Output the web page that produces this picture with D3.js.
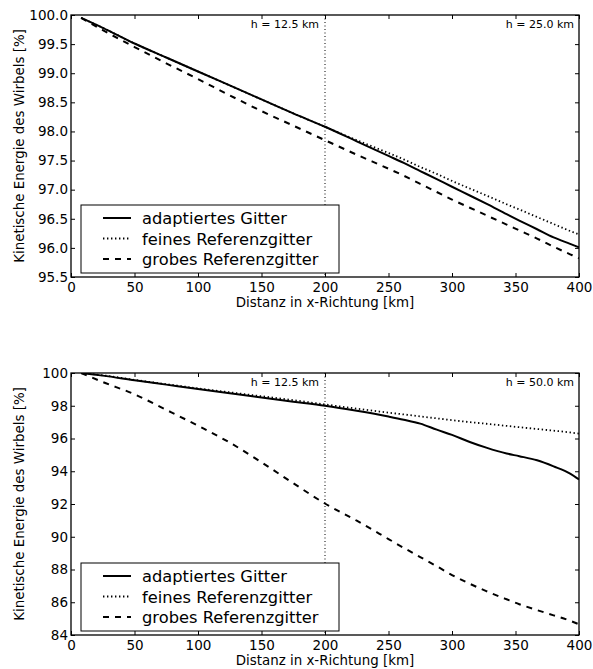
<!DOCTYPE html>
<html>
<head>
<meta charset="utf-8">
<script src="https://cdn.jsdelivr.net/npm/d3@7"></script>
<style>
  html, body { margin: 0; padding: 0; background: #fff; }
  svg { display: block; font-family: "DejaVu Sans", sans-serif; }
</style>
</head>
<body>
<svg id="chart" width="593" height="669"></svg>
<script>
// Distance along x (km) at which the vortex energy is sampled
const distKm = [8, 25, 50, 75, 100, 125, 150, 175, 200, 225, 250, 262, 275, 288, 300, 314, 327, 343, 353, 367, 380, 393, 400];

// Panel 1: h = 25.0 km
const top_adapt  = [99.95, 99.78, 99.51, 99.27, 99.03, 98.79, 98.55, 98.31, 98.08, 97.83, 97.58, 97.46, 97.32, 97.18, 97.05, 96.90, 96.76, 96.58, 96.47, 96.32, 96.18, 96.07, 96.01];
const top_fine   = [99.95, 99.78, 99.51, 99.27, 99.03, 98.79, 98.55, 98.31, 98.08, 97.85, 97.63, 97.52, 97.39, 97.27, 97.15, 97.02, 96.90, 96.75, 96.66, 96.53, 96.41, 96.29, 96.23];
const top_coarse = [99.95, 99.74, 99.45, 99.17, 98.90, 98.62, 98.35, 98.10, 97.85, 97.60, 97.36, 97.24, 97.10, 96.96, 96.83, 96.69, 96.56, 96.40, 96.30, 96.16, 96.02, 95.89, 95.82];

// Panel 2: h = 50.0 km
const bot_adapt  = [100.0, 99.84, 99.56, 99.29, 99.02, 98.76, 98.50, 98.25, 98.00, 97.69, 97.34, 97.15, 96.91, 96.54, 96.22, 95.79, 95.44, 95.08, 94.92, 94.67, 94.30, 93.86, 93.50];
const bot_fine   = [100.0, 99.86, 99.58, 99.32, 99.06, 98.82, 98.58, 98.34, 98.08, 97.82, 97.58, 97.47, 97.35, 97.23, 97.12, 97.00, 96.90, 96.77, 96.69, 96.58, 96.48, 96.37, 96.30];
const bot_coarse = [100.0, 99.45, 98.70, 97.75, 96.78, 95.75, 94.55, 93.27, 92.03, 90.98, 89.86, 89.32, 88.76, 88.20, 87.66, 87.13, 86.68, 86.18, 85.88, 85.52, 85.20, 84.87, 84.65];

// Axis ticks
const xTicks = [0, 50, 100, 150, 200, 250, 300, 350, 400];
const topYTicks = [95.5, 96.0, 96.5, 97.0, 97.5, 98.0, 98.5, 99.0, 99.5, 100.0];
const botYTicks = [84, 86, 88, 90, 92, 94, 96, 98, 100];

const seriesNames = ["adaptiertes Gitter", "feines Referenzgitter", "grobes Referenzgitter"];
const panelLabelLeft = "h = 12.5 km";
const topLabelRight = "h = 25.0 km";
const botLabelRight = "h = 50.0 km";
const refineEdge = 200;

const xLabel = "Distanz in x-Richtung [km]";
const yLabel = "Kinetische Energie des Wirbels [%]";

const styles = [
  { width: 2, dash: null },
  { width: 1.8, dash: "1.4,2.6" },
  { width: 2, dash: "6,6" }
];

const svg = d3.select("#chart");

function panel(opts) {
  const { left, right, top, bottom, yDomain, yTicks, yFmt, series, rightLabel } = opts;
  const g = svg.append("g");
  const x = d3.scaleLinear().domain([0, 400]).range([left, right]);
  const y = d3.scaleLinear().domain(yDomain).range([bottom, top]);

  const clipId = "clip" + Math.round(top);
  g.append("clipPath").attr("id", clipId)
    .append("rect").attr("x", left).attr("y", top).attr("width", right - left).attr("height", bottom - top);

  // vertical marker at the edge of the refined region
  g.append("line")
    .attr("x1", x(refineEdge)).attr("x2", x(refineEdge))
    .attr("y1", top).attr("y2", bottom)
    .attr("stroke", "#000").attr("stroke-width", 1)
    .attr("stroke-dasharray", "1,2.5");

  const line = d3.line().curve(d3.curveMonotoneX).x((d, i) => x(distKm[i])).y(d => y(d));
  const plot = g.append("g").attr("clip-path", `url(#${clipId})`);
  series.forEach((s, i) => {
    plot.append("path")
      .attr("d", line(s))
      .attr("fill", "none")
      .attr("stroke", "#000")
      .attr("stroke-width", styles[i].width)
      .attr("stroke-dasharray", styles[i].dash)
      .attr("stroke-linejoin", "round");
  });

  // axes with inward ticks on all four sides
  const tickLen = 4;
  const xb = g.append("g").attr("transform", `translate(0,${bottom})`)
    .call(d3.axisBottom(x).tickValues(xTicks).tickSizeInner(-tickLen).tickSizeOuter(0).tickPadding(5.5).tickFormat(d3.format("d")));
  const xt = g.append("g").attr("transform", `translate(0,${top})`)
    .call(d3.axisTop(x).tickValues(xTicks).tickSizeInner(-tickLen).tickSizeOuter(0).tickFormat(""));
  const yl = g.append("g").attr("transform", `translate(${left},0)`)
    .call(d3.axisLeft(y).tickValues(yTicks).tickSizeInner(-tickLen).tickSizeOuter(0).tickPadding(3).tickFormat(yFmt));
  const yr = g.append("g").attr("transform", `translate(${right},0)`)
    .call(d3.axisRight(y).tickValues(yTicks).tickSizeInner(-tickLen).tickSizeOuter(0).tickFormat(""));
  [xb, xt, yl, yr].forEach(a => {
    a.select(".domain").remove();
    a.selectAll(".tick line").attr("stroke", "#000").attr("stroke-width", 1);
  });
  xb.selectAll("text").attr("font-size", 13.5).attr("fill", "#000").attr("font-family", "DejaVu Sans");
  yl.selectAll("text").attr("font-size", 13.5).attr("fill", "#000").attr("font-family", "DejaVu Sans");

  // frame
  g.append("rect").attr("x", left).attr("y", top).attr("width", right - left).attr("height", bottom - top)
    .attr("fill", "none").attr("stroke", "#000").attr("stroke-width", 1.3);

  // resolution annotations
  g.append("text").attr("x", x(refineEdge) - 6).attr("y", top + 13)
    .attr("text-anchor", "end").attr("font-size", 11).text(panelLabelLeft);
  g.append("text").attr("x", right - 5).attr("y", top + 13)
    .attr("text-anchor", "end").attr("font-size", 11).text(rightLabel);

  // axis titles
  g.append("text").attr("x", (left + right) / 2).attr("y", bottom + 30)
    .attr("text-anchor", "middle").attr("font-size", 13.4).text(xLabel);
  g.append("text")
    .attr("transform", `translate(${left - 47.5},${(top + bottom) / 2}) rotate(-90)`)
    .attr("text-anchor", "middle").attr("font-size", 13.4).text(yLabel);

  // legend
  const lgX = left + 10, lgY = bottom - 72, lgW = 258, lgH = 68;
  const lg = g.append("g");
  lg.append("rect").attr("x", lgX).attr("y", lgY).attr("width", lgW).attr("height", lgH)
    .attr("fill", "#fff").attr("stroke", "#000").attr("stroke-width", 1);
  seriesNames.forEach((name, i) => {
    const cy = lgY + 13 + i * 20.5;
    lg.append("line").attr("x1", lgX + 22).attr("x2", lgX + 50).attr("y1", cy).attr("y2", cy)
      .attr("stroke", "#000").attr("stroke-width", styles[i].width).attr("stroke-dasharray", styles[i].dash);
    lg.append("text").attr("x", lgX + 61).attr("y", cy + 6).attr("font-size", 16.3).text(name);
  });
}

panel({
  left: 71, right: 579, top: 15, bottom: 277,
  yDomain: [95.5, 100], yTicks: topYTicks, yFmt: d3.format(".1f"),
  series: [top_adapt, top_fine, top_coarse], rightLabel: topLabelRight
});
panel({
  left: 71, right: 579, top: 373, bottom: 635,
  yDomain: [84, 100], yTicks: botYTicks, yFmt: d3.format("d"),
  series: [bot_adapt, bot_fine, bot_coarse], rightLabel: botLabelRight
});
</script>
</body>
</html>
